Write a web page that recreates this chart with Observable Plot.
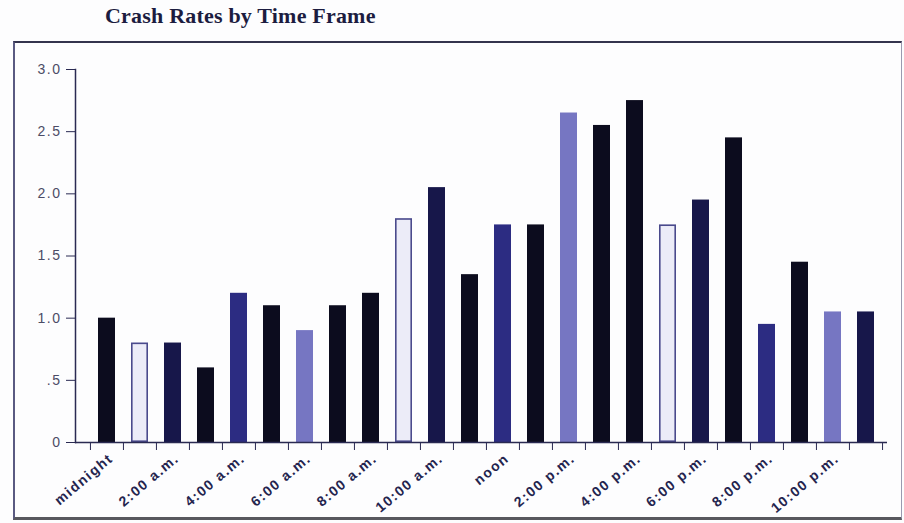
<!DOCTYPE html>
<html>
<head>
<meta charset="utf-8">
<script src="https://cdn.jsdelivr.net/npm/d3@7"></script>
<script src="https://cdn.jsdelivr.net/npm/@observablehq/plot@0.6"></script>
<style>
  html, body { margin: 0; padding: 0; background: #fdfdfe; }
  #page { position: relative; width: 904px; height: 523px; overflow: hidden; }
  #title { position: absolute; left: 105px; top: 3px; font-family: "Liberation Serif", "Times New Roman", serif;
           font-weight: bold; font-size: 22px; color: #1c1c40; letter-spacing: 0.2px; white-space: nowrap; }
  #frame { position: absolute; left: 13px; top: 41px; width: 886px; height: 474px;
           border-top: 2px solid #34344e; border-left: 2px solid #5a5a82; border-bottom: 3px solid #58585e;
           border-right: 1px solid #9a9ab0; }
  #chart { position: absolute; left: 0; top: 44px; }
  #chart svg text { letter-spacing: 1.5px; }
</style>
</head>
<body>
<div id="page">
  <div id="title">Crash Rates by Time Frame</div>
  <div id="frame"></div>
  <div id="chart"></div>
</div>
<script>
// Hour of day (categories)
const hours = ["midnight", "1:00 a.m.", "2:00 a.m.", "3:00 a.m.", "4:00 a.m.", "5:00 a.m.",
  "6:00 a.m.", "7:00 a.m.", "8:00 a.m.", "9:00 a.m.", "10:00 a.m.", "11:00 a.m.",
  "noon", "1:00 p.m.", "2:00 p.m.", "3:00 p.m.", "4:00 p.m.", "5:00 p.m.",
  "6:00 p.m.", "7:00 p.m.", "8:00 p.m.", "9:00 p.m.", "10:00 p.m.", "11:00 p.m."];
// Crash rate per hour
const rates = [1.0, 0.8, 0.8, 0.6, 1.2, 1.1, 0.9, 1.1, 1.2, 1.8, 2.05, 1.35,
  1.75, 1.75, 2.65, 2.55, 2.75, 1.75, 1.95, 2.45, 0.95, 1.45, 1.05, 1.05];
// Shading category of each bar
const tones = ["black", "light", "navy", "black", "medium", "black", "lavender", "black",
  "black", "light", "navy", "black", "medium", "black", "lavender", "black",
  "black", "light", "navy", "black", "medium", "black", "lavender", "navy"];
// Axis tick labels
const xTickLabels = ["midnight", "2:00 a.m.", "4:00 a.m.", "6:00 a.m.", "8:00 a.m.", "10:00 a.m.",
  "noon", "2:00 p.m.", "4:00 p.m.", "6:00 p.m.", "8:00 p.m.", "10:00 p.m."];
const yTicks = [0, 0.5, 1, 1.5, 2, 2.5, 3];
const yTickLabels = ["0", ".5", "1.0", "1.5", "2.0", "2.5", "3.0"];

const toneNames = ["black", "navy", "medium", "lavender", "light"];
const toneColors = ["#0c0c1e", "#17174a", "#2c2c82", "#7676c2", "#ececf8"];

const data = hours.map((h, i) => ({hour: h, rate: rates[i], tone: tones[i]}));

const W = 904, H = 476, ML = 75, MR = 17, MT = 25, MB = 78;
const padIn = 0.47, padOut = 0.5;
const step = (W - ML - MR) / (hours.length - padIn + 2 * padOut);
const axisColor = "#2a2a52";

const chart = Plot.plot({
  width: W, height: H,
  marginLeft: ML, marginRight: MR, marginTop: MT, marginBottom: MB,
  style: {background: "transparent", fontFamily: "'Liberation Sans', Arial, sans-serif"},
  x: {type: "band", domain: hours, paddingInner: padIn, paddingOuter: padOut, align: 0.65, axis: null, label: null},
  y: {domain: [0, 3], axis: null, label: null},
  color: {domain: toneNames, range: toneColors},
  marks: [
    Plot.barY(data, {x: "hour", y: "rate", fill: "tone"}),
    Plot.barY(data.filter(d => d.tone === "light"), {x: "hour", y: "rate", fill: "none", stroke: "#4a4a8c", strokeWidth: 1.6, inset: 0.8}),
    Plot.frame({anchor: "left", stroke: axisColor, strokeWidth: 1.5}),
    Plot.ruleY([0], {stroke: axisColor, strokeWidth: 1.6}),
    Plot.axisY(yTicks, {tickSize: 9, tickPadding: 5, tickFormat: d => yTickLabels[yTicks.indexOf(d)],
      fontSize: 14, stroke: axisColor, fill: "#4c4c66", label: null}),
    Plot.axisX(hours, {tickSize: 8, dx: -step / 2, text: null, stroke: axisColor, label: null}),
    Plot.axisX([hours[hours.length - 1]], {tickSize: 8, dx: step / 2, text: null, stroke: axisColor, label: null}),
    Plot.axisX(xTickLabels, {tickSize: 0, tickPadding: 14, tickRotate: -40, dx: 4,
      fontSize: 14, fill: "#24244e", fontWeight: "bold", label: null})
  ]
});
document.getElementById("chart").appendChild(chart);
</script>
</body>
</html>
